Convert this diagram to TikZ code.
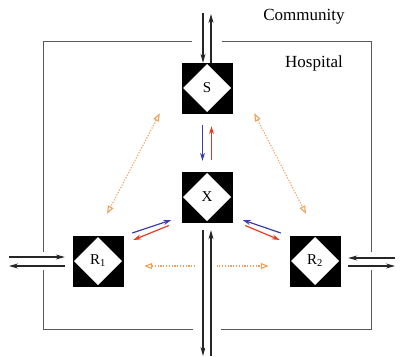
\documentclass[tikz,border=0pt]{standalone}
\usepackage{fontspec}
\setmainfont{Liberation Serif}
\usetikzlibrary{arrows.meta}
\definecolor{colblue}{RGB}{60,60,170}
\definecolor{colred}{RGB}{230,60,35}
\definecolor{colorange}{RGB}{240,160,90}

\begin{document}
\begin{tikzpicture}[x=1pt,y=-1pt]
                        \tikzstyle{box}=[draw=black, fill=black, minimum size=50pt, inner sep=0pt, font=\rmfamily\fontsize{15}{17}\selectfont,
                            path picture={\fill[white] ([yshift=-1pt]path picture bounding box.north) -- ([xshift=-1pt]path picture bounding box.east)
                                -- ([yshift=1pt]path picture bounding box.south) -- ([xshift=1pt]path picture bounding box.west) -- cycle;}]
                        \tikzstyle{wall}=[draw=black!65, line width=1pt]
                        \tikzstyle{flow}=[draw=black!85, line width=1.1pt, -{Stealth[length=9pt,width=5pt]}]
                        \tikzstyle{cross}=[flow, preaction={draw=white, line width=12pt, -}]
                        \tikzstyle{move}=[line width=1.2pt, -{Stealth[length=8pt,width=5pt]}]
                        \tikzstyle{link}=[draw=colorange, line width=1.1pt, dash pattern=on 1.2pt off 1.6pt,
                            {Triangle[open,length=8pt,width=6pt]}-{Triangle[open,length=8pt,width=6pt]}]
                        \tikzstyle{label}=[font=\rmfamily\fontsize{17}{19}\selectfont]
                        \useasboundingbox (0,0) rectangle (403,356);
                        \node[label] (community) at (304,17) {Community};
                        \node[label] (hospital) at (314,63) {Hospital};
                        \draw[wall] (192,41) -- (43,41) -- (43,252);
                        \draw[wall] (43,270) -- (43,329) -- (193,329);
                        \draw[wall] (221,329) -- (371,329) -- (371,270);
                        \draw[wall] (371,252) -- (371,41) -- (222,41);
                        \node[box] (S) at (207,88) {S};
                        \node[box] (X) at (207,197) {X};
                        \node[box] (R1) at (98,261) {R\textsubscript{1}};
                        \node[box] (R2) at (315,261) {R\textsubscript{2}};
                        \coordinate (topin) at (203,13);
                        \coordinate (topout) at (211,13);
                        \coordinate (leftin) at (9,257);
                        \coordinate (leftout) at (9,266);
                        \coordinate (rightin) at (395,258);
                        \coordinate (rightout) at (395,266);
                        \coordinate (botout) at (203,356);
                        \coordinate (botin) at (211,356);
                        \draw[link] ([xshift=-22pt]S.south west) -- ([xshift=9pt,yshift=22pt]R1.north);
                        \draw[link] ([xshift=22pt]S.south east) -- ([xshift=-9pt,yshift=22pt]R2.north);
                        \draw[link] ([xshift=21pt,yshift=-5pt]R1.east) -- ([xshift=-21pt,yshift=-5pt]R2.west);
                        \draw[flow] (topin) -- (topin |- S.north);
                        \draw[flow] (topout |- S.north) -- ([yshift=-1pt]topout);
                        \draw[flow, shorten >=8pt] (leftin) -- (leftin -| R1.west);
                        \draw[flow, shorten <=8pt] (leftout -| R1.west) -- (leftout);
                        \draw[flow, shorten >=8pt] (rightin) -- (rightin -| R2.east);
                        \draw[flow, shorten <=8pt] (rightout -| R2.east) -- (rightout);
                        \draw[cross, shorten <=8pt] (botout |- X.south) -- (botout);
                        \draw[cross, shorten >=8pt] (botin) -- (botin |- X.south);
                        \draw[move, colblue, shorten <=12pt, shorten >=11pt] ([xshift=-4.5pt]S.south) -- ([xshift=-4.5pt]X.north);
                        \draw[move, colred, shorten <=12pt, shorten >=13pt] ([xshift=4.5pt]X.north) -- ([xshift=4.5pt]S.south);
                        \draw[move, colblue] ([xshift=9pt,yshift=28pt]R1.east) -- ([xshift=-10.5pt,yshift=-23pt]X.west);
                        \draw[move, colred] ([xshift=-13pt,yshift=-28.5pt]X.west) -- ([xshift=10pt,yshift=21pt]R1.east);
                        \draw[move, colblue] ([xshift=-9pt,yshift=28pt]R2.west) -- ([xshift=10.5pt,yshift=-23pt]X.east);
                        \draw[move, colred] ([xshift=13pt,yshift=-28.5pt]X.east) -- ([xshift=-10pt,yshift=21pt]R2.west);
                    \end{tikzpicture}
\end{document}
